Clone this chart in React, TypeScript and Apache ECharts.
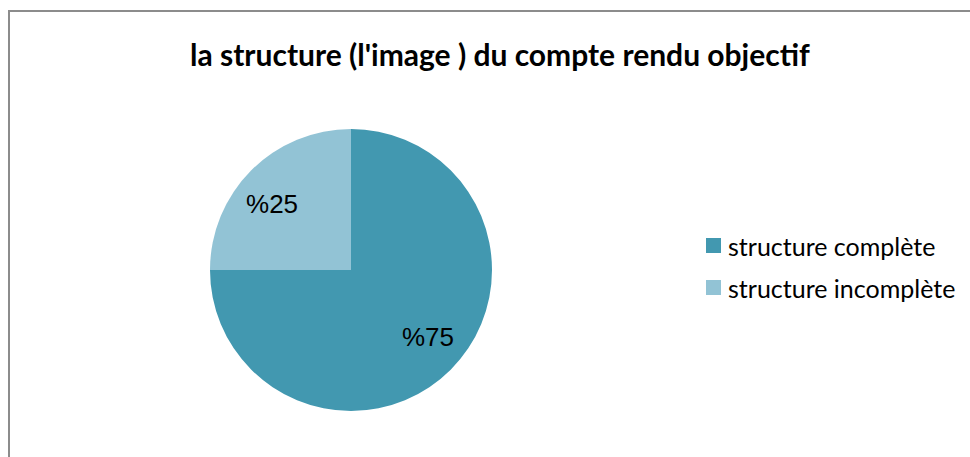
import React, { useEffect, useRef } from "react";
import * as echarts from "echarts";

const categories = ["structure complète", "structure incomplète"];
const values = [75, 25];
const labels = ["%75", "%25"];
const colors = ["#4298B0", "#92C3D5"];
const titleText = "la structure (l'image ) du compte rendu objectif";

export default function App() {
  const ref = useRef<HTMLDivElement>(null);
  useEffect(() => {
    if (!ref.current) return;
    const chart = echarts.init(ref.current, undefined, { renderer: "svg" });
    const offsets = [
      [25, 15],
      [-27, -14],
    ];
    chart.setOption({
      animation: false,
      backgroundColor: "#ffffff",
      title: {
        text: titleText,
        left: 190,
        top: 39,
        padding: 0,
        textStyle: {
          fontFamily: "Lato",
          fontWeight: "bold",
          fontSize: 30,
          color: "#000000",
        },
      },
      graphic: [
        {
          type: "rect",
          shape: { x: 9, y: 11, width: 980, height: 470 },
          style: { fill: "none", stroke: "#8c8c8c", lineWidth: 2 },
          silent: true,
        },
      ],
      legend: {
        orient: "vertical",
        left: 706,
        top: 233,
        padding: 0,
        itemWidth: 15,
        itemHeight: 15,
        itemGap: 17,
        icon: "rect",
        data: categories,
        textStyle: {
          fontFamily: "Lato",
          fontSize: 25,
          color: "#000000",
          padding: [0, 0, 0, 2],
        },
      },
      series: [
        {
          type: "pie",
          center: [351, 270],
          radius: 141,
          startAngle: 90,
          clockwise: true,
          silent: true,
          label: {
            show: true,
            position: "inside",
            fontFamily: "Liberation Sans",
            fontSize: 26,
            color: "#000000",
          },
          labelLine: { show: false },
          data: categories.map((name, i) => ({
            name,
            value: values[i],
            itemStyle: { color: colors[i] },
            label: { formatter: labels[i], offset: offsets[i] },
          })),
        },
      ],
    });
    return () => chart.dispose();
  }, []);
  return (
    <div
      ref={ref}
      style={{ position: "absolute", left: 0, top: 0, width: 970, height: 457 }}
    />
  );
}
